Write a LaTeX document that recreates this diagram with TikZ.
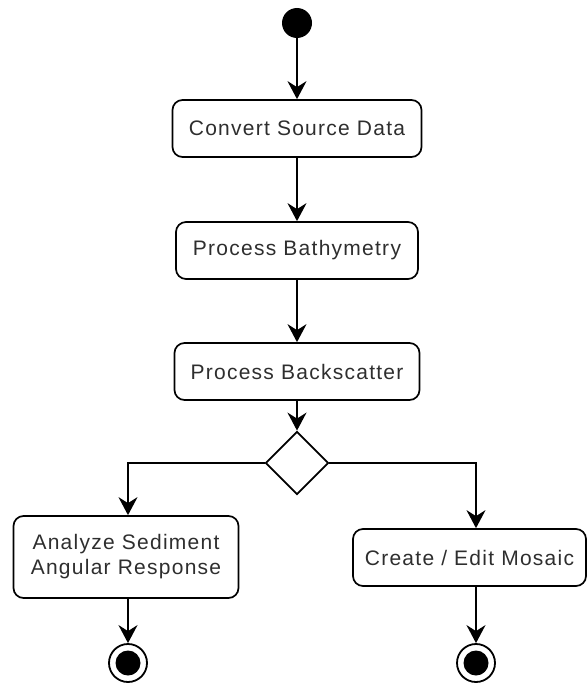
\documentclass[tikz,border=0pt]{standalone}
\usepackage{fontspec}
\setmainfont{Liberation Sans}[LetterSpace=6]
\usetikzlibrary{arrows.meta,shapes.geometric}
\begin{document}
\begin{tikzpicture}[x=1pt,y=-1pt,
  act/.style={draw, line width=1.7pt, rounded corners=10pt, minimum height=57pt,
    inner sep=0pt, align=center, font=\fontsize{21}{25}\selectfont, text=black!82},
  flow/.style={line width=1.8pt, -{Stealth[length=18pt,width=19pt,inset=6pt]}},
  startst/.style={circle, fill=black, minimum size=30pt, inner sep=0pt},
  endst/.style={circle, draw, line width=1.8pt, minimum size=38pt, inner sep=0pt},
  endin/.style={circle, fill=black, minimum size=25pt, inner sep=0pt},
  decide/.style={diamond, draw, line width=1.8pt, minimum width=63pt, minimum height=63pt, inner sep=0pt}]
\useasboundingbox (0,0) rectangle (587,685);
\node[startst] (s) at (297,23) {};
\node[act, minimum width=249pt] (b1) at (297,128.5) {Convert Source Data};
\node[act, minimum width=242pt] (b2) at (297,250.5) {Process Bathymetry};
\node[act, minimum width=245pt] (b3) at (297,371.5) {Process Backscatter};
\node[decide] (d) at (297,463) {};
\node[act, minimum width=225pt, minimum height=82pt] (l) at (126,557) {Analyze Sediment\\Angular Response};
\node[act, minimum width=233pt] (r) at (469.5,557.5) {Create / Edit Mosaic};
\node[endst] (e1) at (128,663) {};
\node[endin] (e1i) at (128,663) {};
\node[endst] (e2) at (476,663) {};
\node[endin] (e2i) at (476,663) {};
\draw[flow] (s) -- (b1);
\draw[flow] (b1) -- (b2);
\draw[flow] (b2) -- (b3);
\draw[flow] (b3) -- (d);
\draw[flow] (d.west) -| (e1 |- l.north);
\draw[flow] (d.east) -| (e2 |- r.north);
\draw[flow] (l.south -| e1) -- (e1);
\draw[flow] (r.south -| e2) -- (e2);
\end{tikzpicture}
\end{document}
